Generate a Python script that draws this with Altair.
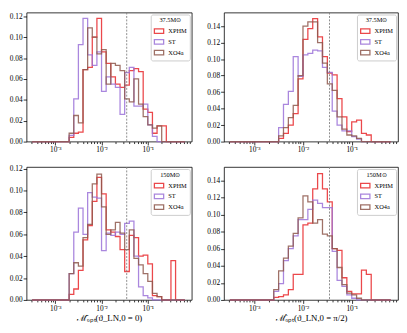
import altair as alt
import pandas as pd

SERIES = ["XPHM", "ST", "XO4a"]
COLORS = ["#e8282b", "#9b72d8", "#8e584c"]

# log10 of histogram bin left edges (0.1-decade bins), and the last right edge
EDGES = [-3.5, -3.4, -3.3, -3.2, -3.1, -3.0, -2.9, -2.8, -2.7, -2.6, -2.5,
         -2.4, -2.3, -2.2, -2.1, -2.0, -1.9, -1.8, -1.7, -1.6, -1.5, -1.4,
         -1.3, -1.2, -1.1, -1.0, -0.9, -0.8, -0.7, -0.6, -0.5, -0.4, -0.3]
EDGE_END = -0.2
LEAD_ZERO_BINS = 7  # bins -3.5 ... -2.9 are empty in every series

# values for bins starting at -2.8 (26 bins, up to -0.3)
P1_XPHM = [0, 0.004, 0.008, 0.009, 0.069, 0.071, 0.100, 0.118, 0.086, 0.075, 0.062, 0.055, 0.052,
           0.054, 0.068, 0.070, 0.067, 0.031, 0.028, 0.008, 0.015, 0.015, 0, 0, 0, 0]
P1_ST = [0, 0.006, 0.041, 0.093, 0.118, 0.083, 0.073, 0.086, 0.048, 0.062, 0.055, 0.052, 0.026,
         0.066, 0.071, 0.034, 0.034, 0.036, 0.016, 0.005, 0, 0, 0, 0, 0, 0]
P1_XO4A = [0, 0.008, 0.025, 0.018, 0.069, 0.109, 0.100, 0.084, 0.088, 0.055, 0.075, 0.073, 0.068,
           0.041, 0.038, 0.060, 0.036, 0.024, 0.016, 0.013, 0.015, 0, 0, 0, 0, 0]

P2_XPHM = [0, 0, 0, 0.004, 0.010, 0.020, 0.034, 0.076, 0.124, 0.137, 0.149, 0.127, 0.103,
           0.083, 0.081, 0.052, 0.030, 0.012, 0.024, 0.026, 0.010, 0.008, 0, 0, 0, 0]
P2_ST = [0, 0, 0, 0.017, 0.045, 0.061, 0.103, 0.079, 0.105, 0.107, 0.111, 0.110, 0.090,
         0.084, 0.037, 0.020, 0.013, 0.013, 0.006, 0.003, 0, 0, 0, 0, 0, 0]
P2_XO4A = [0, 0, 0, 0.007, 0.017, 0.029, 0.044, 0.080, 0.140, 0.145, 0.145, 0.120, 0.095,
           0.070, 0.062, 0.030, 0.015, 0.008, 0.007, 0.004, 0, 0, 0, 0, 0, 0]

P3_XPHM = [0, 0.005, 0.010, 0.027, 0.055, 0.068, 0.090, 0.112, 0.097, 0.064, 0.062, 0.058, 0.046,
           0.026, 0.059, 0.057, 0.040, 0.041, 0.033, 0.004, 0.003, 0, 0, 0.036, 0, 0]
P3_ST = [0, 0.024, 0.062, 0.084, 0.060, 0.098, 0.094, 0.093, 0.045, 0.061, 0.059, 0.062, 0.060,
         0.070, 0.072, 0.040, 0.012, 0.004, 0.002, 0, 0, 0, 0, 0, 0, 0]
P3_XO4A = [0, 0.024, 0.034, 0.031, 0.057, 0.069, 0.106, 0.115, 0.085, 0.060, 0.064, 0.071, 0.061,
           0.046, 0.064, 0.038, 0.032, 0.024, 0.017, 0.006, 0.003, 0, 0, 0, 0, 0]

P4_XPHM = [0, 0, 0.003, 0.004, 0.006, 0.012, 0.030, 0.030, 0.088, 0.090, 0.130, 0.148, 0.130,
           0.115, 0.060, 0.058, 0.026, 0.010, 0.007, 0.007, 0.035, 0.030, 0, 0, 0, 0]
P4_ST = [0, 0, 0.010, 0.019, 0.046, 0.060, 0.075, 0.094, 0.094, 0.106, 0.117, 0.113, 0.108,
         0.108, 0.057, 0.023, 0.016, 0.006, 0.002, 0, 0, 0, 0, 0, 0, 0]
P4_XO4A = [0, 0, 0.012, 0.034, 0.049, 0.063, 0.078, 0.096, 0.122, 0.115, 0.090, 0.094, 0.077,
           0.075, 0.060, 0.038, 0.018, 0.008, 0.006, 0.002, 0, 0, 0, 0, 0, 0]

LEGEND_TITLES = ["37.5M⊙", "37.5M⊙", "150M⊙", "150M⊙"]
X_TITLES = ["", "", "ℳ̄ₒₚₜ(ϑ_LN,0 = 0)", "ℳ̂ₒₚₜ(ϑ_LN,0 = π/2)"]
Y_TICKS_A = [0.0, 0.02, 0.04, 0.06, 0.08, 0.10, 0.12]
Y_TICKS_B = [0.0, 0.02, 0.04, 0.06, 0.08, 0.10, 0.12, 0.14]
Y_MAX = [0.1236, 0.1564, 0.1215, 0.1557]
VLINE = 0.035

X_DOMAIN = [10 ** -3.62, 10 ** -0.05]
X_TICKS = [3e-4, 4e-4, 5e-4, 6e-4, 7e-4, 8e-4, 9e-4,
           1e-3, 2e-3, 3e-3, 4e-3, 5e-3, 6e-3, 7e-3, 8e-3, 9e-3,
           1e-2, 2e-2, 3e-2, 4e-2, 5e-2, 6e-2, 7e-2, 8e-2, 9e-2,
           1e-1, 2e-1, 3e-1, 4e-1, 5e-1, 6e-1, 7e-1, 8e-1]

FONT = "Liberation Serif"
LX = "log(datum.value)/LN10"
LABEL_EXPR = (f"abs({LX}+3)<0.01 ? '10⁻³' : abs({LX}+2)<0.01 ? '10⁻²' : "
              f"abs({LX}+1)<0.01 ? '10⁻¹' : ''")
MAJOR_TEST = f"abs({LX}-round({LX}))<0.01"


def make_df(series_vals):
    rows = []
    for s, vals in zip(SERIES, series_vals):
        full = [0.0] * LEAD_ZERO_BINS + list(vals)
        for e, v in zip(EDGES, full):
            rows.append({"x": 10 ** e, "y": v, "series": s})
        rows.append({"x": 10 ** EDGE_END, "y": 0.0, "series": s})
    return pd.DataFrame(rows)


def panel(series_vals, idx, yticks, width, height):
    df = make_df(series_vals)
    xs = alt.Scale(type="log", domain=X_DOMAIN, nice=False)
    xaxis = alt.Axis(values=X_TICKS, labelExpr=LABEL_EXPR, labelOverlap=False,
                     labelFlush=False, labelBound=False, title=X_TITLES[idx], grid=False,
                     tickSize={"condition": {"test": MAJOR_TEST, "value": 3.5}, "value": 2},
                     labelPadding=1, titlePadding=2)
    yaxis = alt.Axis(values=yticks, format=".2f", title="", labelPadding=1, tickSize=3.5,
                     grid=False)
    ys = alt.Scale(domain=[0, Y_MAX[idx]], nice=False, zero=True)
    lines = alt.Chart(df).mark_line(interpolate="step-after", strokeWidth=1.3, opacity=0.85).encode(
        x=alt.X("x:Q", scale=xs, axis=xaxis),
        y=alt.Y("y:Q", scale=ys, axis=yaxis),
        color=alt.Color("series:N", scale=alt.Scale(domain=SERIES, range=COLORS),
                        legend=alt.Legend(title=LEGEND_TITLES[idx], orient="top-right", offset=2,
                                          symbolType="M-1,-0.5L1,-0.5L1,0.5L-1,0.5Z",
                                          symbolSize=90, symbolStrokeWidth=1.3,
                                          symbolFillColor="transparent",
                                          titleAnchor="middle", titleFontWeight="normal",
                                          titleFontSize=6.5, labelFontSize=6.5,
                                          labelFont=FONT, titleFont=FONT,
                                          rowPadding=0, titlePadding=2, padding=3,
                                          strokeColor="#cccccc", fillColor="white",
                                          cornerRadius=2)),
    )
    rule = alt.Chart(pd.DataFrame({"x": [VLINE]})).mark_rule(
        color="#808080", strokeDash=[2, 1.5], strokeWidth=0.9).encode(x="x:Q")
    return alt.layer(lines, rule).properties(width=width, height=height)


p1 = panel([P1_XPHM, P1_ST, P1_XO4A], 0, Y_TICKS_A, 169, 132)
p2 = panel([P2_XPHM, P2_ST, P2_XO4A], 1, Y_TICKS_B, 178, 132)
p3 = panel([P3_XPHM, P3_ST, P3_XO4A], 2, Y_TICKS_A, 169, 136)
p4 = panel([P4_XPHM, P4_ST, P4_XO4A], 3, Y_TICKS_B, 178, 136)

top = alt.hconcat(p1, p2, spacing=13).resolve_scale(color="independent")
bottom = alt.hconcat(p3, p4, spacing=13).resolve_scale(color="independent")

chart = alt.vconcat(top, bottom, spacing=10).resolve_scale(color="independent").properties(
    padding=0, background="white"
).configure_view(
    stroke="black", strokeWidth=0.8
).configure_axis(
    domain=False, grid=False, tickColor="black", tickWidth=0.8, labelColor="black",
    labelFont=FONT, labelFontSize=7.5, titleFont=FONT, titleFontSize=9,
    titleFontWeight="normal", titleColor="black"
)

chart.save("out.html", embed_options={"renderer": "svg", "actions": False})
